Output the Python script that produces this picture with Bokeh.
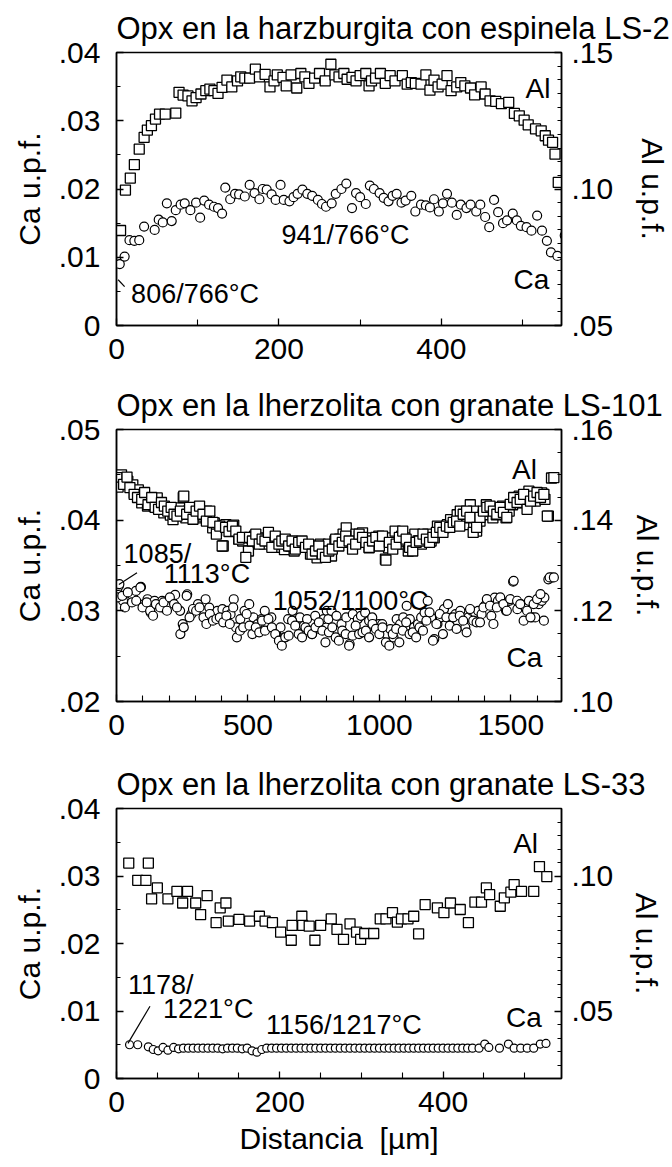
from bokeh.plotting import figure
from bokeh.layouts import column
from bokeh.models import Range1d, LinearAxis, FixedTicker, CustomJSTickFormatter, Label
from bokeh.embed import file_html
from bokeh.resources import INLINE

FONT = "Liberation Sans"
PAGE_W = 672

# ---------------- LS-2 : harzburgita con espinela ----------------
ls2_al_x = [5, 11, 17, 22, 28, 34, 38, 43, 48, 53,
            60, 73, 77, 82, 88, 93, 98, 104, 110, 115,
            120, 125, 130, 136, 142, 149, 153, 158, 164, 171,
            176, 183, 189, 194, 198, 205, 209, 215, 222, 227,
            232, 237, 244, 250, 257, 264, 269, 274, 280, 284,
            290, 295, 300, 307, 311, 314, 319, 325, 331, 337,
            343, 352, 358, 363, 368, 375, 381, 386, 391, 396,
            401, 407, 412, 419, 424, 429, 436, 441, 449, 454,
            460, 467, 474, 483, 490, 496, 502, 507, 516, 523,
            528, 532, 537, 540, 544]
ls2_al = [0.0848, 0.0996, 0.1040, 0.1089, 0.1146, 0.1189, 0.1216, 0.1232, 0.1256, 0.1274,
          0.1274, 0.1278, 0.1354, 0.1344, 0.1341, 0.1323, 0.1335, 0.1348, 0.1360, 0.1366,
          0.1360, 0.1350, 0.1372, 0.1399, 0.1374, 0.1396, 0.1411, 0.1406, 0.1406, 0.1439,
          0.1411, 0.1420, 0.1374, 0.1396, 0.1418, 0.1409, 0.1378, 0.1418, 0.1370, 0.1423,
          0.1411, 0.1387, 0.1406, 0.1423, 0.1396, 0.1457, 0.1418, 0.1411, 0.1423, 0.1402,
          0.1409, 0.1396, 0.1415, 0.1423, 0.1378, 0.1396, 0.1406, 0.1423, 0.1387, 0.1415,
          0.1396, 0.1415, 0.1384, 0.1390, 0.1387, 0.1384, 0.1418, 0.1362, 0.1399, 0.1374,
          0.1384, 0.1415, 0.1360, 0.1374, 0.1390, 0.1378, 0.1370, 0.1345, 0.1374, 0.1348,
          0.1323, 0.1321, 0.1313, 0.1317, 0.1277, 0.1268, 0.1252, 0.1235, 0.1220, 0.1213,
          0.1195, 0.1179, 0.1171, 0.1128, 0.1024]
ls2_ca_x = [4, 10, 16, 22, 28, 34, 47, 52, 57, 62,
            68, 73, 79, 84, 91, 98, 103, 108, 114, 120,
            125, 130, 134, 140, 146, 151, 158, 164, 170, 176,
            180, 185, 191, 196, 202, 206, 213, 218, 223, 229,
            235, 241, 248, 253, 258, 265, 270, 277, 283, 290,
            295, 300, 307, 312, 317, 324, 329, 335, 340, 345,
            351, 356, 363, 368, 375, 381, 386, 391, 397, 402,
            407, 413, 419, 424, 431, 436, 443, 448, 454, 459,
            465, 470, 476, 481, 488, 493, 498, 505, 511, 518,
            524, 530, 535, 543, 552]
ls2_ca = [0.0090, 0.0101, 0.0125, 0.0124, 0.0125, 0.0145, 0.0140, 0.0155, 0.0151, 0.0179,
          0.0153, 0.0169, 0.0177, 0.0179, 0.0169, 0.0180, 0.0158, 0.0183, 0.0177, 0.0174,
          0.0172, 0.0164, 0.0202, 0.0185, 0.0193, 0.0192, 0.0189, 0.0206, 0.0194, 0.0185,
          0.0200, 0.0199, 0.0192, 0.0184, 0.0206, 0.0184, 0.0182, 0.0188, 0.0193, 0.0199,
          0.0193, 0.0190, 0.0184, 0.0178, 0.0174, 0.0179, 0.0193, 0.0200, 0.0208, 0.0172,
          0.0194, 0.0188, 0.0178, 0.0205, 0.0200, 0.0194, 0.0187, 0.0182, 0.0190, 0.0193,
          0.0180, 0.0183, 0.0190, 0.0167, 0.0177, 0.0176, 0.0173, 0.0185, 0.0167, 0.0179,
          0.0193, 0.0180, 0.0162, 0.0177, 0.0172, 0.0177, 0.0167, 0.0177, 0.0159, 0.0144,
          0.0184, 0.0166, 0.0150, 0.0154, 0.0164, 0.0154, 0.0146, 0.0144, 0.0139, 0.0161,
          0.0139, 0.0124, 0.0107, 0.0102, 0.0132]

# ---------------- LS-101 : lherzolita con granate ----------------
ls101_al_x = [
    2, 4, 19, 33, 43, 62, 68, 83, 96, 105,
    118, 130, 143, 155, 170, 180, 192, 205, 215, 227,
    242, 254, 264, 276, 291, 304, 316, 329, 343, 354,
    366, 372, 381, 391, 406, 416, 430, 446, 465, 480,
    490, 502, 512, 525, 539, 552, 562, 577, 589, 601,
    614, 626, 639, 651, 663, 676, 688, 707, 719, 738,
    750, 763, 775, 788, 800,
    806, 818, 831, 849, 862, 874, 887, 899, 911, 924,
    936, 949, 961, 973, 986, 998, 1011, 1023, 1035, 1048,
    1060, 1073, 1085, 1097, 1110, 1122, 1135, 1147, 1160, 1172,
    1184, 1197, 1209, 1221, 1234, 1246, 1259, 1271, 1286, 1296,
    1308, 1321, 1333, 1346, 1358, 1370, 1383, 1395, 1407, 1420,
    1432, 1445, 1457, 1469, 1482, 1494, 1507, 1519, 1532, 1544,
    1556, 1569, 1581, 1593, 1606, 1618, 1630, 1643, 1655,
    2, 6, 27, 40, 51, 67, 80, 96, 107, 120,
    134, 147, 160, 171, 182, 195, 208, 219, 230, 243,
    256, 267, 278, 291, 303, 316, 329, 342, 355, 367,
    380, 393, 402, 415, 428, 441, 454, 466, 479, 492,
    506, 517, 530, 543, 554, 565, 578, 591, 604, 618,
    629, 642, 655, 668, 680, 693, 706, 719, 731, 744,
    757, 770, 783, 795, 808, 821, 834, 846, 859, 872,
    885, 898, 910, 923, 936, 949, 961, 974, 987, 1000,
    1012, 1025, 1038, 1051, 1064, 1076, 1089, 1102, 1115, 1127,
    1140, 1153, 1166, 1179, 1191, 1204, 1217, 1230, 1242, 1255,
    1268, 1281, 1294, 1306, 1319, 1332, 1345, 1357, 1370, 1383,
    1396, 1409, 1421, 1434, 1447, 1460, 1472, 1485, 1498, 1511,
    1524, 1536, 1549, 1562, 1575, 1587, 1600, 1613, 1626, 1639,
    1664]
ls101_al = [
    0.1494, 0.1475, 0.1500, 0.1494, 0.1486, 0.1478, 0.1460, 0.1467, 0.1438, 0.1456,
    0.1431, 0.1438, 0.1431, 0.1449, 0.1431, 0.1416, 0.1427, 0.1411, 0.1401, 0.1421,
    0.1427, 0.1450, 0.1405, 0.1421, 0.1427, 0.1405, 0.1420, 0.1409, 0.1420, 0.1401,
    0.1383, 0.1394, 0.1376, 0.1387, 0.1343, 0.1390, 0.1383, 0.1389, 0.1358, 0.1354,
    0.1361, 0.1332, 0.1361, 0.1365, 0.1350, 0.1361, 0.1347, 0.1361, 0.1354, 0.1340,
    0.1347, 0.1350, 0.1335, 0.1347, 0.1343, 0.1332, 0.1343, 0.1347, 0.1340, 0.1325,
    0.1332, 0.1317, 0.1347, 0.1328, 0.1340,
    0.1347, 0.1321, 0.1354, 0.1358, 0.1369, 0.1383, 0.1361, 0.1347, 0.1369, 0.1365,
    0.1372, 0.1361, 0.1339, 0.1350, 0.1358, 0.1365, 0.1347, 0.1314, 0.1339, 0.1361,
    0.1376, 0.1347, 0.1365, 0.1354, 0.1332, 0.1361, 0.1369, 0.1354, 0.1347, 0.1358,
    0.1369, 0.1354, 0.1361, 0.1387, 0.1376, 0.1383, 0.1390, 0.1401, 0.1394, 0.1412,
    0.1420, 0.1390, 0.1405, 0.1434, 0.1420, 0.1376, 0.1398, 0.1412, 0.1434, 0.1420,
    0.1405, 0.1412, 0.1427, 0.1431, 0.1405, 0.1420, 0.1434, 0.1449, 0.1453, 0.1438,
    0.1456, 0.1464, 0.1446, 0.1442, 0.1453, 0.1460, 0.1446, 0.1409, 0.1493,
    0.1494, 0.1473, 0.1479, 0.1495, 0.1472, 0.1457, 0.1450, 0.1446, 0.1461, 0.1434,
    0.1450, 0.1428, 0.1424, 0.1439, 0.1431, 0.1420, 0.1428, 0.1413, 0.1409, 0.1420,
    0.1453, 0.1413, 0.1428, 0.1402, 0.1420, 0.1431, 0.1413, 0.1398, 0.1420, 0.1395,
    0.1369, 0.1387, 0.1343, 0.1384, 0.1375, 0.1387, 0.1376, 0.1358, 0.1362, 0.1318,
    0.1362, 0.1354, 0.1369, 0.1347, 0.1358, 0.1354, 0.1373, 0.1340, 0.1365, 0.1347,
    0.1354, 0.1358, 0.1343, 0.1354, 0.1336, 0.1351, 0.1354, 0.1340, 0.1347, 0.1325,
    0.1332, 0.1343, 0.1325, 0.1318, 0.1332, 0.1336, 0.1358, 0.1343, 0.1351, 0.1365,
    0.1354, 0.1336, 0.1347, 0.1369, 0.1362, 0.1351, 0.1340, 0.1354, 0.1362, 0.1343,
    0.1365, 0.1312, 0.1351, 0.1336, 0.1347, 0.1362, 0.1376, 0.1358, 0.1340, 0.1332,
    0.1351, 0.1354, 0.1369, 0.1358, 0.1351, 0.1362, 0.1373, 0.1384, 0.1373, 0.1387,
    0.1384, 0.1395, 0.1398, 0.1387, 0.1413, 0.1420, 0.1406, 0.1373, 0.1384, 0.1406,
    0.1420, 0.1428, 0.1431, 0.1420, 0.1413, 0.1428, 0.1417, 0.1406, 0.1435, 0.1450,
    0.1439, 0.1446, 0.1457, 0.1424, 0.1442, 0.1453, 0.1461, 0.1450, 0.1457, 0.1409,
    0.1494]
ls101_ca_x = [
    2, 9, 25, 43, 62, 74, 93, 105, 118, 130,
    145, 165, 174, 186, 198, 211, 223, 242, 252, 269,
    285, 298, 310, 326, 339, 353, 372, 384, 403, 422,
    434, 446, 455, 471, 487, 505, 521, 537, 552, 564,
    577, 589, 607, 624, 639, 653, 670, 682, 698, 713,
    725, 744, 756, 773, 788, 800,
    806, 818, 837, 856, 874, 887, 899, 918, 930, 946,
    961, 973, 986, 998, 1011, 1029, 1042, 1054, 1066, 1079,
    1091, 1104, 1116, 1132, 1147, 1159, 1172, 1184, 1197, 1209,
    1221, 1234, 1246, 1261, 1277, 1290, 1308, 1327, 1339, 1352,
    1364, 1376, 1389, 1401, 1414, 1426, 1439, 1451, 1469, 1482,
    1494, 1509, 1525, 1538, 1556, 1569, 1581, 1593, 1606, 1618,
    1628, 1643, 1655,
    3, 11, 22, 32, 43, 59, 75, 91, 99, 115,
    128, 139, 150, 166, 179, 192, 203, 219, 230, 243,
    256, 267, 278, 291, 303, 316, 331, 342, 355, 367,
    380, 393, 406, 418, 431, 444, 458, 470, 482, 495,
    506, 517, 530, 543, 554, 565, 578, 591, 604, 618,
    629, 642, 655, 668, 680, 693, 706, 719, 731, 744,
    757, 770, 783, 795, 808, 821, 834, 846, 859, 872,
    885, 898, 910, 923, 936, 949, 961, 974, 987, 1000,
    1012, 1025, 1038, 1051, 1064, 1076, 1089, 1102, 1115, 1127,
    1140, 1153, 1166, 1179, 1191, 1204, 1217, 1230, 1242, 1255,
    1268, 1281, 1294, 1306, 1319, 1332, 1345, 1357, 1370, 1383,
    1396, 1409, 1421, 1434, 1447, 1460, 1472, 1485, 1498, 1511,
    1524, 1536, 1549, 1562, 1575, 1587, 1600, 1613, 1626, 1648,
    1664]
ls101_ca = [
    0.03238, 0.03275, 0.0311, 0.03201, 0.03165, 0.0322, 0.03264, 0.03073, 0.03128, 0.02981,
    0.0311, 0.03055, 0.0311, 0.03018, 0.03073, 0.03128, 0.03176, 0.0300, 0.02854, 0.03183,
    0.02963, 0.03018, 0.03073, 0.0300, 0.03128, 0.03036, 0.02963, 0.0300, 0.03018, 0.0300,
    0.02963, 0.03128, 0.02817, 0.02909, 0.0300, 0.03073, 0.02927, 0.02854, 0.02909, 0.0300,
    0.02854, 0.02927, 0.02762, 0.02817, 0.02707, 0.02909, 0.0300, 0.02854, 0.02927, 0.02835,
    0.02909, 0.02744, 0.02945, 0.02799, 0.02909, 0.0300,
    0.02909, 0.0300, 0.02945, 0.02854, 0.02927, 0.02634, 0.02963, 0.02909, 0.02945, 0.02981,
    0.0289, 0.02927, 0.02817, 0.02854, 0.02854, 0.02744, 0.02799, 0.02707, 0.02909, 0.02854,
    0.02927, 0.03055, 0.02909, 0.02817, 0.02854, 0.02927, 0.02981, 0.0311, 0.02927, 0.02689,
    0.02854, 0.02927, 0.03018, 0.03073, 0.02927, 0.02963, 0.0300, 0.02817, 0.02927, 0.0300,
    0.02981, 0.0300, 0.02963, 0.03055, 0.0311, 0.02945, 0.03146, 0.0311, 0.03073, 0.0300,
    0.0311, 0.03322, 0.03018, 0.03073, 0.03036, 0.0311, 0.02927, 0.02927, 0.03073, 0.0311,
    0.03146, 0.03348, 0.03366,
    0.03148, 0.03295, 0.03166, 0.03038, 0.03203, 0.03093, 0.03111, 0.03258, 0.03038, 0.03093,
    0.03001, 0.02946, 0.03075, 0.03038, 0.03093, 0.03001, 0.03148, 0.03075, 0.03038, 0.02744,
    0.02818, 0.03166, 0.02928, 0.0302, 0.03001, 0.03038, 0.02928, 0.02855, 0.02965, 0.02891,
    0.0291, 0.02928, 0.02873, 0.02946, 0.02855, 0.03038, 0.02708, 0.02781, 0.02818, 0.02965,
    0.02836, 0.02744, 0.02818, 0.02763, 0.02891, 0.02781, 0.0291, 0.02818, 0.02744, 0.02671,
    0.02616, 0.02708, 0.02726, 0.02891, 0.02836, 0.02744, 0.02708, 0.02818, 0.02781, 0.02744,
    0.02818, 0.02873, 0.02781, 0.02653, 0.02763, 0.02818, 0.02708, 0.02671, 0.02781, 0.02744,
    0.02616, 0.02726, 0.02836, 0.02744, 0.02763, 0.02781, 0.02708, 0.02855, 0.0280, 0.02744,
    0.02818, 0.02653, 0.02616, 0.02744, 0.0280, 0.02653, 0.02781, 0.02873, 0.02744, 0.02763,
    0.02708, 0.02818, 0.02781, 0.02891, 0.02983, 0.02671, 0.02855, 0.02965, 0.02744, 0.02928,
    0.02836, 0.02928, 0.0280, 0.02946, 0.02891, 0.02763, 0.0302, 0.02891, 0.02873, 0.02873,
    0.03038, 0.0313, 0.03056, 0.02855, 0.03038, 0.03148, 0.03075, 0.03001, 0.0313, 0.03331,
    0.03111, 0.03075, 0.02891, 0.03001, 0.02928, 0.03075, 0.0313, 0.03185, 0.02891, 0.03368,
    0.03368]

# ---------------- LS-33 : lherzolita con granate ----------------
ls33_al_x = [15, 26, 36, 39, 43, 50, 63, 74, 81, 87,
             97, 103, 111, 122, 127, 134, 137, 150, 163, 175,
             182, 191, 201, 214, 215, 227, 228, 236, 243, 250,
             263, 270, 278, 286, 294, 299, 304, 315, 323, 330,
             338, 344, 349, 357, 364, 370, 378, 393, 401, 409,
             421, 431, 439, 447, 453, 457, 470, 475, 483, 487,
             496, 511, 518, 527]
ls33_al = [0.1048, 0.0984, 0.0984, 0.1048, 0.0915, 0.0956, 0.0915, 0.0943, 0.0900, 0.0943,
           0.0900, 0.0857, 0.0927, 0.0827, 0.0882, 0.0900, 0.0833, 0.0839, 0.0833, 0.0851,
           0.0833, 0.0827, 0.0792, 0.0762, 0.0817, 0.0851, 0.0817, 0.0814, 0.0762, 0.0817,
           0.0841, 0.0802, 0.0765, 0.0823, 0.0792, 0.0765, 0.0787, 0.0787, 0.0841, 0.0841,
           0.0864, 0.0829, 0.0841, 0.0841, 0.0851, 0.0786, 0.0894, 0.0882, 0.0864, 0.0900,
           0.0876, 0.0827, 0.0903, 0.0903, 0.0956, 0.0931, 0.0888, 0.0919, 0.0940, 0.0968,
           0.0943, 0.0943, 0.1035, 0.0998]
ls33_ca_x = [16, 26, 39, 45, 51, 57, 63, 70, 76, 82,
             88, 94, 100, 106, 112, 118, 124, 130, 136, 142,
             148, 154, 160, 166, 172, 178, 184, 190, 196, 202,
             208, 214, 220, 226, 232, 238, 244, 250, 256, 262,
             268, 274, 280, 286, 292, 298, 304, 310, 316, 322,
             328, 334, 340, 346, 352, 358, 364, 370, 376, 382,
             388, 394, 400, 406, 412, 418, 424, 430, 436, 444,
             451, 456, 469, 480, 487, 495, 503, 511, 519, 526]
ls33_ca = [0.0050, 0.0050, 0.0047, 0.0043, 0.0041, 0.0046, 0.0042, 0.0046, 0.0044, 0.0045,
           0.0045, 0.0045, 0.0045, 0.0045, 0.0045, 0.0045, 0.0045, 0.0044, 0.0045, 0.0045,
           0.0045, 0.0044, 0.0045, 0.0041, 0.0039, 0.0043, 0.0045, 0.0045, 0.0045, 0.0045,
           0.0045, 0.0045, 0.0045, 0.0045, 0.0045, 0.0045, 0.0045, 0.0045, 0.0045, 0.0045,
           0.0045, 0.0045, 0.0045, 0.0045, 0.0045, 0.0045, 0.0045, 0.0045, 0.0045, 0.0045,
           0.0045, 0.0045, 0.0045, 0.0045, 0.0045, 0.0045, 0.0045, 0.0045, 0.0045, 0.0045,
           0.0045, 0.0045, 0.0045, 0.0045, 0.0045, 0.0045, 0.0045, 0.0045, 0.0045, 0.0045,
           0.0051, 0.0046, 0.0045, 0.0051, 0.0045, 0.0045, 0.0045, 0.0045, 0.0051, 0.0052]

TITLES = ["Opx en la harzburgita con espinela LS-2",
          "Opx en la lherzolita con granate LS-101",
          "Opx en la lherzolita con granate LS-33"]


def upf_formatter():
    # u.p.f. values are written without the leading zero (".04"), zero stays "0"
    return CustomJSTickFormatter(code="""
        if (Math.abs(tick) < 1e-9) { return '0'; }
        return tick.toFixed(2).replace(/^0\\./, '.');
    """)


def steps(lo, hi, step, skip_every):
    n = int(round((hi - lo) / step))
    return [round(lo + step * i, 4) for i in range(n + 1) if i % skip_every]


def style_axis(ax, ticks, minor, standoff, label="", label_standoff=10):
    ax.ticker = FixedTicker(ticks=ticks, minor_ticks=minor)
    ax.axis_line_color = "black"
    ax.axis_line_width = 1.5
    ax.major_tick_in = 7
    ax.major_tick_out = 0
    ax.minor_tick_in = 4
    ax.minor_tick_out = 0
    ax.major_tick_line_width = 1.3
    ax.minor_tick_line_width = 1.1
    ax.major_label_standoff = standoff
    ax.major_label_text_font = FONT
    ax.major_label_text_font_size = "30px"
    ax.major_label_text_color = "black"
    ax.axis_label = label
    ax.axis_label_text_font = FONT
    ax.axis_label_text_font_size = "30px"
    ax.axis_label_text_font_style = "normal"
    ax.axis_label_text_color = "black"
    ax.axis_label_standoff = label_standoff


def make_panel(title, height, borders, x_end, ca_range, al_range,
               x_ticks, x_minor, ca_ticks, ca_minor, al_ticks, al_minor,
               xlabel="", right_label_gap=14):
    left, right, top, bottom = borders
    p = figure(width=PAGE_W, height=height,
               x_range=Range1d(0, x_end), y_range=Range1d(*ca_range),
               output_backend="svg", toolbar_location=None,
               min_border_left=left, min_border_right=right,
               min_border_top=top, min_border_bottom=bottom)
    p.extra_y_ranges = {"al": Range1d(*al_range)}
    p.grid.visible = False
    p.outline_line_color = "black"
    p.outline_line_width = 1.5
    p.background_fill_color = "white"
    p.border_fill_color = "white"

    p.title.text = title
    p.title.align = "left"
    p.title.text_font = FONT
    p.title.text_font_size = "31px"
    p.title.text_font_style = "normal"
    p.title.text_color = "black"
    p.title.standoff = 14

    style_axis(p.xaxis[0], x_ticks, x_minor, 13, xlabel, 7)
    p.xaxis[0].minor_tick_in = 6
    style_axis(p.yaxis[0], ca_ticks, ca_minor, 16, "Ca u.p.f.", 10)
    p.yaxis[0].formatter = upf_formatter()

    right_ax = LinearAxis(y_range_name="al")
    style_axis(right_ax, al_ticks, al_minor, 10, "Al u.p.f.", right_label_gap)
    right_ax.formatter = upf_formatter()
    p.add_layout(right_ax, "right")
    return p


def add_profiles(p, al_x, al, ca_x, ca, sq=10, ci=9):
    p.scatter(al_x, al, y_range_name="al", marker="square", size=sq,
              fill_color="white", line_color="black", line_width=1.3)
    p.scatter(ca_x, ca, marker="circle", size=ci,
              fill_color="white", line_color="black", line_width=1.2)


def note(p, x, y, text, size="27px", align="left"):
    p.add_layout(Label(x=x, y=y, text=text, text_font=FONT, text_font_size=size,
                       text_align=align, text_baseline="middle", text_color="black"))


def leader(p, xs, ys):
    p.line(xs, ys, line_color="black", line_width=1.2)


# --- panel 1 ---
p1 = make_panel(TITLES[0], 378, (112, 109, 52, 53), 548, (0, 0.04), (0.05, 0.15),
                [0, 200, 400], [100, 300, 500],
                [0, 0.01, 0.02, 0.03, 0.04], steps(0, 0.04, 0.005, 2),
                [0.05, 0.10, 0.15], steps(0.05, 0.15, 0.005, 10),
                right_label_gap=20)
add_profiles(p1, ls2_al_x, ls2_al, ls2_ca_x, ls2_ca)
note(p1, 519, 0.0347, "Al", "28px", "center")
note(p1, 511, 0.0068, "Ca", "28px", "center")
note(p1, 282, 0.0132, "941/766°C", "27px", "center")
note(p1, 18, 0.0046, "806/766°C", "27px")
leader(p1, [2, 10], [0.0067, 0.0057])

# --- panel 2 ---
p2 = make_panel(TITLES[1], 378, (114, 102, 50, 55), 1693, (0.02, 0.05), (0.10, 0.16),
                [0, 500, 1000, 1500], [100, 200, 300, 400, 600, 700, 800, 900,
                                        1100, 1200, 1300, 1400, 1600],
                [0.02, 0.03, 0.04, 0.05], [0.025, 0.035, 0.045],
                [0.10, 0.12, 0.14, 0.16], steps(0.10, 0.16, 0.005, 4),
                right_label_gap=15)
add_profiles(p2, ls101_al_x, ls101_al, ls101_ca_x, ls101_ca, sq=10, ci=9)
note(p2, 1552, 0.0456, "Al", "28px", "center")
note(p2, 1552, 0.0249, "Ca", "28px", "center")
note(p2, 27, 0.0363, "1085/", "27px")
note(p2, 180, 0.0341, "1113°C", "27px")
note(p2, 594, 0.0311, "1052/1100°C", "27px")
leader(p2, [9, 78], [0.0329, 0.0342])

# --- panel 3 ---
p3 = make_panel(TITLES[2], 411, (116, 101, 52, 89), 545, (0, 0.04), (0.025, 0.125),
                [0, 200, 400], [50, 100, 150, 250, 300, 350, 450, 500],
                [0, 0.01, 0.02, 0.03, 0.04], steps(0, 0.04, 0.005, 2),
                [0.05, 0.10], [v for v in steps(0.025, 0.125, 0.005, 100)
                               if 0.029 < v < 0.121 and abs(v - 0.05) > 1e-6 and abs(v - 0.10) > 1e-6],
                xlabel="Distancia\u00a0 [µm]", right_label_gap=14)
add_profiles(p3, ls33_al_x, ls33_al, ls33_ca_x, ls33_ca, sq=10, ci=8)
note(p3, 501, 0.0348, "Al", "28px", "center")
note(p3, 499, 0.0090, "Ca", "28px", "center")
note(p3, 14, 0.0138, "1178/", "27px")
note(p3, 57, 0.0103, "1221°C", "27px")
note(p3, 183, 0.0079, "1156/1217°C", "27px")
leader(p3, [14, 41], [0.0052, 0.0107])

layout = column(p1, p2, p3, spacing=0)
open("out.html", "w").write(file_html(layout, INLINE))
